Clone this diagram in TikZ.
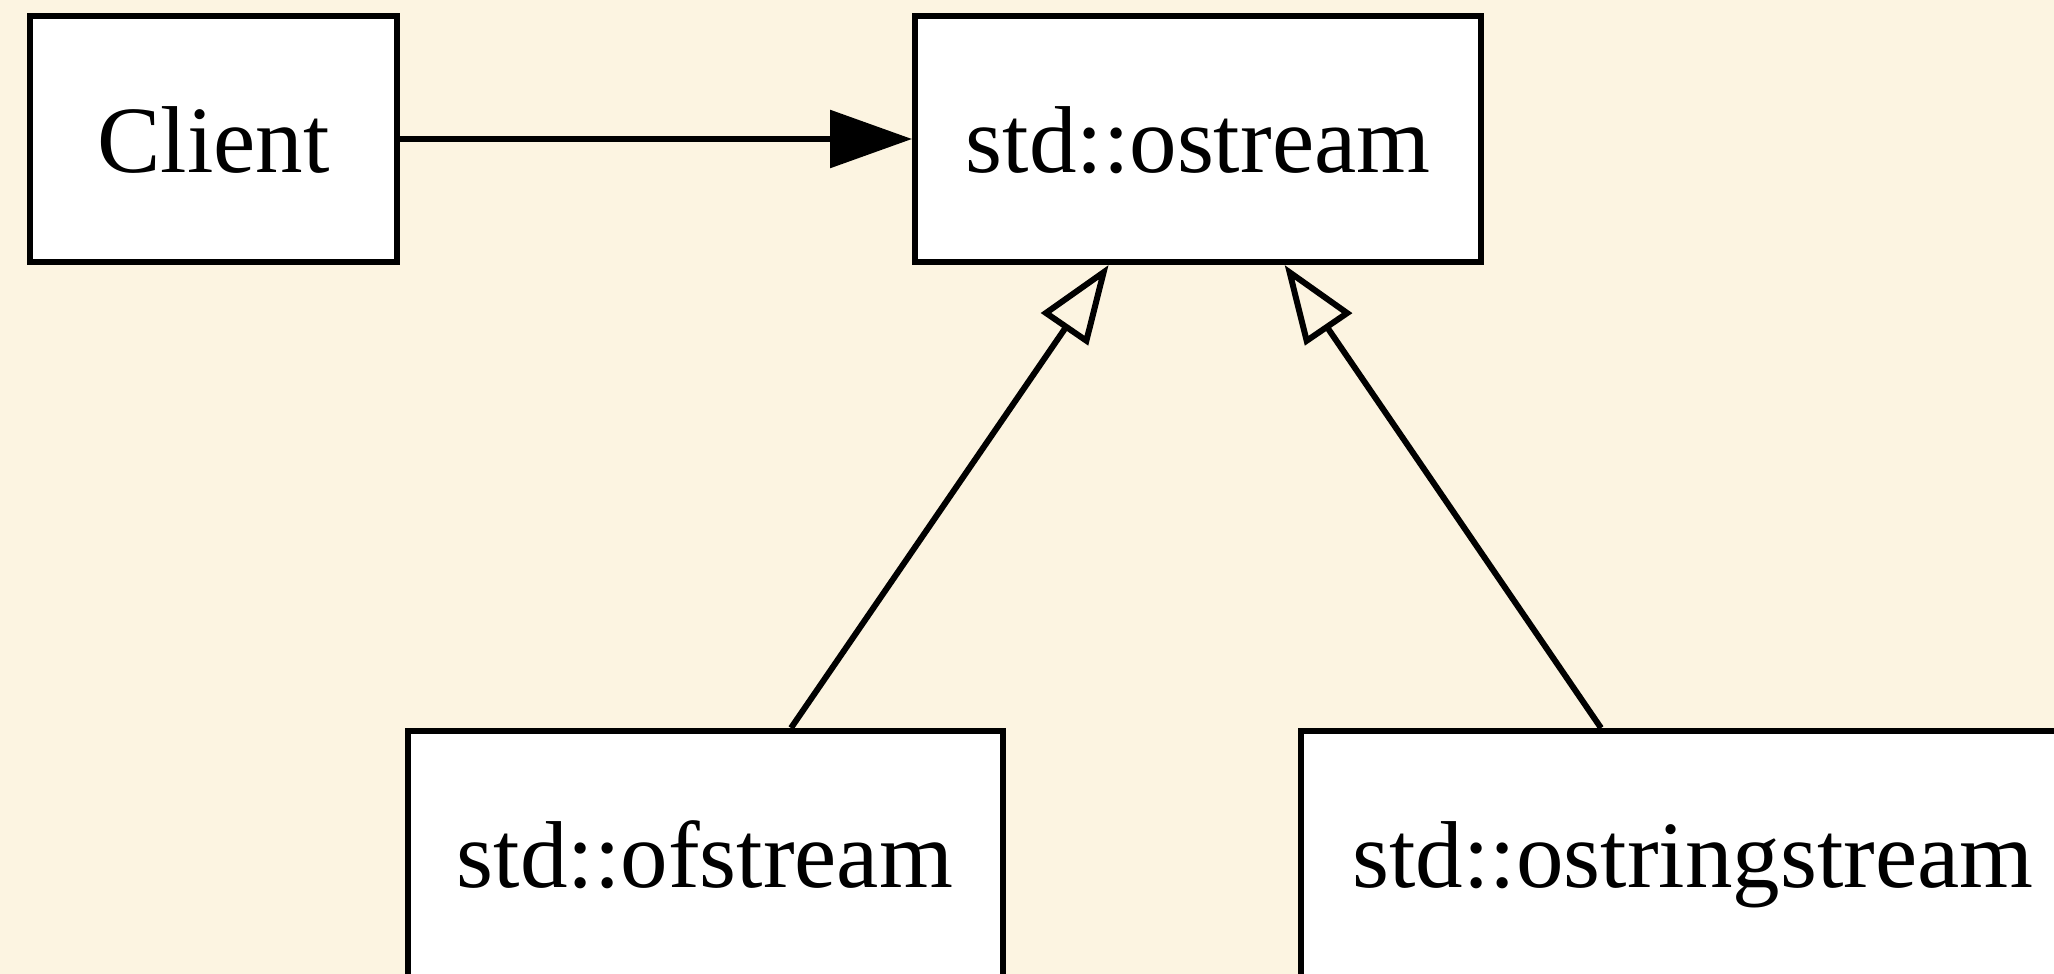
\documentclass[tikz,border=0pt]{standalone}
\usepackage{fontspec}
\setmainfont{Liberation Serif}
\usetikzlibrary{arrows.meta}
\definecolor{paper}{HTML}{FCF4E1}
\begin{document}
\begin{tikzpicture}[x=1pt,y=-1pt,
  cls/.style={draw=black, fill=white, line width=6pt, minimum height=246pt,
    inner sep=0pt, font=\fontsize{95}{100}\selectfont, text height=66pt, text depth=0pt},
  uses/.style={line width=6pt, -{Triangle[length=82pt,width=57pt]}},
  inherits/.style={line width=6pt, -{Triangle[open,length=78pt,width=56pt]}}]
% page and background
\useasboundingbox (0,0) rectangle (2054,974);
\fill[paper] (0,0) rectangle (2054,974);
\clip (0,0) rectangle (2054,974);

% classes
\node[cls, minimum width=367pt] (client) at (213.5,139) {Client};
\node[cls, minimum width=566pt] (ostream) at (1198,139) {std::ostream};
\node[cls, minimum width=595pt] (ofs) at (705,854) {std::ofstream};
\node[cls, minimum width=784pt] (ostr) at (1693,854) {std::ostringstream};

% association
\draw[uses] (client.east) -- (ostream.west);

% generalisations
\draw[inherits] ([xshift=86pt]ofs.north) -- ([xshift=-89.4pt]ostream.south);
\draw[inherits] ([xshift=-92pt]ostr.north) -- ([xshift=86.6pt]ostream.south);
\end{tikzpicture}
\end{document}
